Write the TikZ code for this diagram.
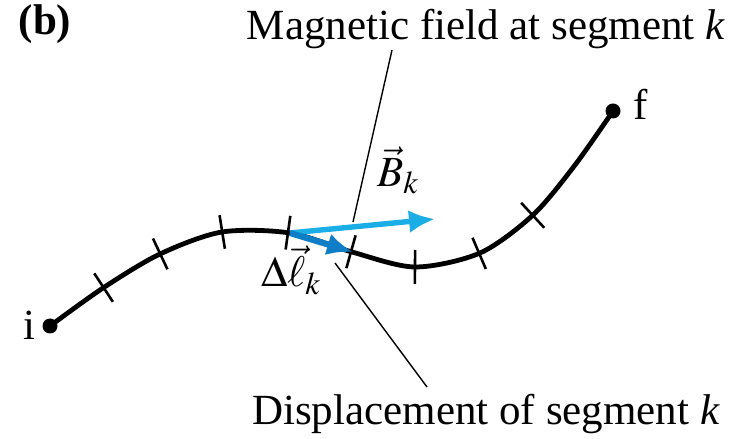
\documentclass[tikz,border=0pt]{standalone}
\usepackage{mathptmx}
\usepackage[no-math]{fontspec}
\setmainfont{Liberation Serif}
\newfontfamily\panelfont{Liberation Serif}[BoldFont={Liberation Serif Bold}]
\definecolor{fieldblue}{HTML}{1AADE6}
\definecolor{displblue}{HTML}{0E7FC6}
\usetikzlibrary{arrows.meta, decorations.markings}

\begin{document}
\begin{tikzpicture}[x=0.5pt, y=0.5pt,
    every node/.style={font=\fontsize{21.5}{26}\selectfont, inner sep=0pt},
    wire/.style={line width=2.4pt, black},
    ticked/.style={postaction={decorate, decoration={markings,
        mark=between positions 0.1 and 0.9 step 0.1 with {\draw[line width=1.3pt] (0,-8.5pt) -- (0,8.5pt);}}}},
    leader/.style={line width=0.7pt, black},
    enddot/.style={circle, fill=black, minimum size=7.5pt}]
      % Frame
      \useasboundingbox (0,0) rectangle (753,438);

      % Panel label
      \node[anchor=base] (panel) at (45,403) {\panelfont\bfseries (b)};

      % Path from i to f
      \draw[wire, ticked, smooth] plot coordinates {(50,112) (103,150) (160,184) (222,206) (290,205) (352,186) (415,171) (480,185) (533,223) (575,273) (613,327)};
      \node[enddot] (start) at (50,112) {};
      \node[enddot] (end) at (613,327) {};
      \node[anchor=base] (ilabel) at (29,98) {i};
      \node[anchor=base] (flabel) at (641,318) {f};

      % Segment k
      \coordinate (seg) at (290,205);
      \coordinate (segnext) at (353,186);
      \coordinate (btip) at (435,219);
      \draw[line width=2.7pt, fieldblue, -{Latex[length=13pt, width=11.5pt]}] (seg) -- (btip);
      \draw[line width=3.1pt, displblue, -{Latex[length=13pt, width=11pt]}] (seg) -- (segnext);
      \node (blabel) at (398,268) {$\vec{B}_k$};
      \node (dlabel) at (291,168) {$\Delta\vec{\ell}_k$};

      % Leader lines
      \node[anchor=base] (mag) at (486,398) {Magnetic field at segment \textit{k}};
      \node[anchor=base] (disp) at (486,13) {Displacement of segment \textit{k}};
      \coordinate (magtop) at (392,388);
      \coordinate (magfoot) at (353,216);
      \coordinate (disptop) at (335,175);
      \coordinate (dispfoot) at (427,51);
      \draw[leader] (magtop) -- (magfoot);
      \draw[leader] (disptop) -- (dispfoot);
\end{tikzpicture}
\end{document}
